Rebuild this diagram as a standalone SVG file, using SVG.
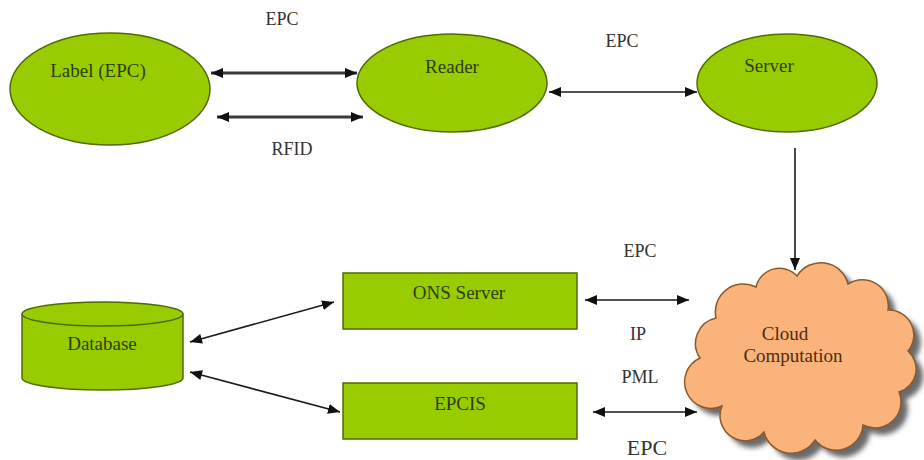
<svg xmlns="http://www.w3.org/2000/svg" width="924" height="460" viewBox="0 0 924 460" font-family="'Liberation Serif', 'DejaVu Serif', serif">
  <style>
    .node { fill: #99cc00; stroke: #4f6b00; stroke-width: 1.5; }
    .cloud { fill: #fbb37c; stroke: #8a5a2c; stroke-width: 1.5; }
    text { font-family: 'Liberation Serif', 'DejaVu Serif', serif; font-size: 18px; text-anchor: middle; }
    .ntext { fill: #2c3f00; font-size: 19px; }
    .ctext { fill: #4a2e10; font-size: 19px; }
    .ltext { fill: #333333; }
    .link { stroke: #1a1a1a; stroke-width: 1.6; fill: none; marker-start: url(#tail); marker-end: url(#head); }
    .thick { stroke: #3a3a3a; stroke-width: 3; }
  </style>
  <defs>
    <marker id="head" markerUnits="userSpaceOnUse" markerWidth="14" markerHeight="12" refX="12" refY="5" orient="auto">
      <path d="M0,0 L12,5 L0,10 Z" fill="#111"/>
    </marker>
    <marker id="tail" markerUnits="userSpaceOnUse" markerWidth="14" markerHeight="12" refX="0" refY="5" orient="auto">
      <path d="M12,0 L0,5 L12,10 Z" fill="#111"/>
    </marker>
    <filter id="soft" x="-10%" y="-10%" width="120%" height="120%">
      <feGaussianBlur stdDeviation="2.5"/>
    </filter>
    <path id="cloudShape" d="M700,358 A26,26 0 0 1 716,318 A28,28 0 0 1 756,287 A24,24 0 0 1 797,276 A28,28 0 0 1 848,284 A26,26 0 0 1 888,310 A25,25 0 0 1 908,351 A24,24 0 0 1 899,392 A26,26 0 0 1 863,425 A27,27 0 0 1 815,440 A28,28 0 0 1 764,432 A25,25 0 0 1 722,406 A25,25 0 0 1 700,358 Z"/>
  </defs>

  <rect width="924" height="460" fill="#ffffff"/>

  <!-- connectors -->
  <g id="connectors">
    <line class="link thick" x1="211" y1="73" x2="357" y2="73"/>
    <line class="link thick" x1="217" y1="117" x2="363" y2="117"/>
    <line class="link" x1="549" y1="92" x2="697" y2="92"/>
    <line x1="795" y1="148" x2="795" y2="270" stroke="#1a1a1a" stroke-width="1.6" marker-end="url(#head)"/>
    <line class="link" x1="190" y1="342" x2="334" y2="302"/>
    <line class="link" x1="190" y1="372" x2="340" y2="412"/>
    <line class="link" x1="585" y1="300" x2="689" y2="300"/>
    <line class="link" x1="593" y1="412" x2="697" y2="412"/>
  </g>

  <!-- connector labels -->
  <g id="labels">
    <text class="ltext" x="282" y="25">EPC</text>
    <text class="ltext" x="292" y="155">RFID</text>
    <text class="ltext" x="622" y="47">EPC</text>
    <text class="ltext" x="640" y="257">EPC</text>
    <text class="ltext" x="638" y="340">IP</text>
    <text class="ltext" x="640" y="383">PML</text>
    <text class="ltext" x="647" y="455" style="font-size:22px">EPC</text>
  </g>

  <g id="label-epc">
    <ellipse class="node" cx="110" cy="89" rx="100" ry="56"/>
    <text class="ntext" x="98" y="77">Label (EPC)</text>
  </g>

  <g id="reader">
    <ellipse class="node" cx="452" cy="83" rx="95" ry="49"/>
    <text class="ntext" x="452" y="73">Reader</text>
  </g>

  <g id="server">
    <ellipse class="node" cx="787" cy="83" rx="90" ry="49"/>
    <text class="ntext" x="769" y="72">Server</text>
  </g>

  <g id="database">
    <path class="node" d="M22,314 L22,378 A80.5,12 0 0 0 183,378 L183,314"/>
    <ellipse class="node" cx="102.5" cy="314" rx="80.5" ry="12"/>
    <text class="ntext" x="102" y="350">Database</text>
  </g>

  <g id="ons-server">
    <rect class="node" x="343" y="273" width="234" height="56"/>
    <text class="ntext" x="459" y="299">ONS Server</text>
  </g>

  <g id="epcis">
    <rect class="node" x="343" y="383" width="234" height="56"/>
    <text class="ntext" x="460" y="410">EPCIS</text>
  </g>

  <g id="cloud-computation">
    <use href="#cloudShape" transform="translate(7,7)" fill="#6a6a6a" filter="url(#soft)"/>
    <use href="#cloudShape" class="cloud"/>
    <text class="ctext" x="785" y="340">Cloud</text>
    <text class="ctext" x="793" y="362">Computation</text>
  </g>
</svg>
